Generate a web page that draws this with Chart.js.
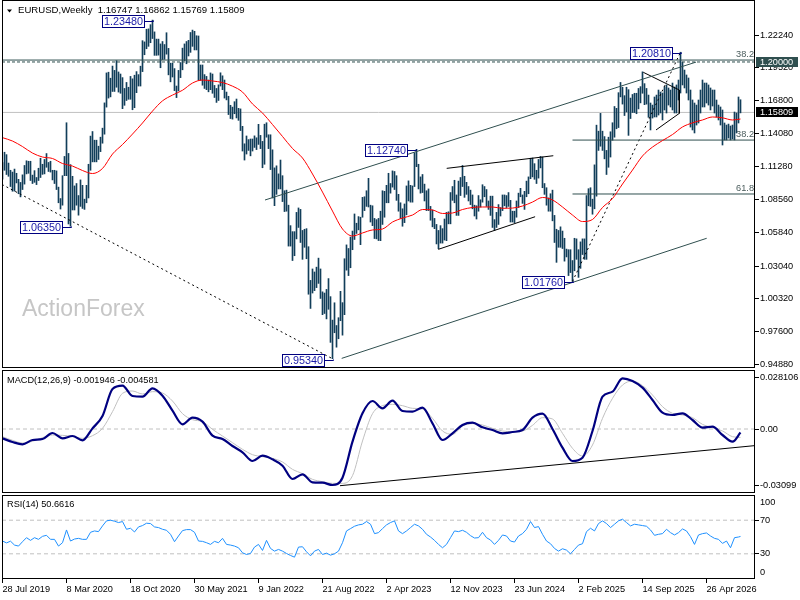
<!DOCTYPE html>
<html>
<head>
<meta charset="utf-8">
<script src="https://cdn.jsdelivr.net/npm/chart.js@4.4.1/dist/chart.umd.min.js"></script>
<style>
  html, body { margin: 0; padding: 0; background: #fff; }
  #wrap { position: relative; width: 800px; height: 600px; background: #fff; overflow: hidden; }
  canvas { position: absolute; left: 0; }
</style>
</head>
<body>
<div id="wrap">
  <canvas id="priceChart" width="800" height="368" style="top:0"></canvas>
  <canvas id="macdChart" width="800" height="123" style="top:370px"></canvas>
  <canvas id="rsiChart" width="800" height="105" style="top:495px"></canvas>
</div>
<script>
// weekly bars, first one is the week of 28 Jul 2019
const dateLabels = ["28 Jul 2019", "8 Mar 2020", "18 Oct 2020", "30 May 2021", "9 Jan 2022", "21 Aug 2022",
  "2 Apr 2023", "12 Nov 2023", "23 Jun 2024", "2 Feb 2025", "14 Sep 2025", "26 Apr 2026"];
const weeksPerLabel = 32;
const priceTicks = [0.9488, 0.9760, 1.0032, 1.0304, 1.0584, 1.0856, 1.1128, 1.1408, 1.1680, 1.1952, 1.2224];
const macdTicks = [0.028106, 0, -0.03099];
const rsiTicks = [70, 30];

const highs = [
  1.1165,1.1250,1.1230,1.1160,1.1100,1.1085,1.1110,1.1075,1.1025,1.0999,
  1.1062,1.1140,1.1179,1.1175,1.1175,1.1060,1.1097,1.1040,1.1117,1.1200,
  1.1150,1.1190,1.1239,1.1165,1.1175,1.1100,1.1100,1.1095,1.0960,1.0865,
  1.1055,1.1215,1.1495,1.1240,1.1147,1.1050,1.0970,1.0990,1.0890,1.1020,
  1.0975,1.0860,1.0975,1.1150,1.1384,1.1422,1.1350,1.1350,1.1300,1.1375,
  1.1450,1.1660,1.1909,1.1915,1.1865,1.1966,1.1930,1.2011,1.1917,1.1900,
  1.1870,1.1780,1.1830,1.1790,1.1880,1.1860,1.1890,1.1920,1.1895,1.1965,
  1.2177,1.2167,1.2272,1.2275,1.2310,1.2348,1.2250,1.2190,1.2190,1.2150,
  1.2170,1.2145,1.2243,1.2113,1.1990,1.1990,1.1945,1.1800,1.1930,1.1995,
  1.2115,1.2150,1.2170,1.2180,1.2245,1.2265,1.2255,1.2218,1.2216,1.1975,
  1.1975,1.1895,1.1880,1.1850,1.1909,1.1900,1.1805,1.1780,1.1810,1.1910,
  1.1885,1.1850,1.1750,1.1715,1.1640,1.1625,1.1670,1.1692,1.1615,1.1610,
  1.1465,1.1320,1.1385,1.1355,1.1360,1.1360,1.1386,1.1370,1.1482,1.1390,
  1.1340,1.1483,1.1495,1.1395,1.1395,1.1270,1.1120,1.1137,1.1070,1.1185,
  1.1055,1.0930,1.0935,1.0810,1.0640,1.0590,1.0590,1.0750,1.0787,1.0775,
  1.0600,1.0610,1.0615,1.0465,1.0185,1.0280,1.0255,1.0295,1.0370,1.0280,
  1.0090,1.0080,1.0110,1.0200,1.0050,0.9855,0.9999,0.9810,0.9875,1.0094,
  1.0000,1.0365,1.0480,1.0450,1.0545,1.0595,1.0737,1.0660,1.0715,1.0710,
  1.0875,1.0880,1.0930,1.1033,1.0810,1.0805,1.0700,1.0690,1.0700,1.0760,
  1.0930,1.0925,1.0975,1.1075,1.0990,1.1095,1.1090,1.1055,1.0900,1.0830,
  1.0780,1.0820,1.0970,1.1012,1.0975,1.0970,1.1245,1.1274,1.1150,1.1045,
  1.1065,1.0985,1.0930,1.0945,1.0800,1.0770,1.0700,1.0650,1.0600,1.0640,
  1.0615,1.0695,1.0750,1.0755,1.0915,1.0965,1.1017,1.0895,1.1010,1.1040,
  1.1140,1.1050,1.1000,1.0965,1.0935,1.0895,1.0810,1.0805,1.0890,1.0855,
  1.0980,1.0965,1.0940,1.0845,1.0885,1.0885,1.0690,1.0750,1.0815,1.0790,
  1.0895,1.0895,1.0890,1.0915,1.0850,1.0760,1.0760,1.0845,1.0910,1.0950,
  1.0895,1.0925,1.1010,1.1045,1.1200,1.1202,1.1155,1.1100,1.1190,1.1215,
  1.1210,1.0990,1.0955,1.0870,1.0905,1.0935,1.0725,1.0610,1.0600,1.0630,
  1.0595,1.0535,1.0445,1.0440,1.0440,1.0350,1.0535,1.0530,1.0440,1.0505,
  1.0530,1.0530,1.0890,1.0947,1.0955,1.0860,1.1145,1.1475,1.1425,1.1573,
  1.1425,1.1380,1.1265,1.1375,1.1420,1.1495,1.1630,1.1615,1.1745,1.1830,
  1.1790,1.1720,1.1790,1.1770,1.1700,1.1730,1.1740,1.1740,1.1780,1.1795,
  1.1918,1.1820,1.1780,1.1725,1.1659,1.1642,1.1709,1.1725,1.1767,1.1750,
  1.1742,1.1792,1.1809,1.1784,1.1767,1.1825,1.1792,1.1809,1.1850,1.2081,
  1.1999,1.1933,1.1892,1.1867,1.1767,1.1684,1.1659,1.1642,1.1684,1.1767,
  1.1850,1.1825,1.1825,1.1809,1.1784,1.1767,1.1767,1.1684,1.1642,1.1626,
  1.1601,1.1493,1.1476,1.1484,1.1468,1.1476,1.1584,1.1576,1.1709,1.16862
];
const lows = [
  1.1027,1.1100,1.1065,1.1050,1.0965,1.0926,1.0927,1.0995,1.0905,1.0879,
  1.0940,1.0985,1.1070,1.1075,1.1015,1.0990,1.1000,1.0981,1.1015,1.1040,
  1.1066,1.1070,1.1125,1.1090,1.1085,1.1020,1.0990,1.0940,1.0830,1.0778,
  1.0810,1.1055,1.1055,1.0654,1.0635,1.0770,1.0770,1.0810,1.0727,1.0800,
  1.0783,1.0775,1.0830,1.0870,1.1100,1.1170,1.1170,1.1170,1.1190,1.1255,
  1.1325,1.1400,1.1625,1.1700,1.1710,1.1755,1.1755,1.1790,1.1750,1.1740,
  1.1612,1.1640,1.1680,1.1690,1.1690,1.1603,1.1620,1.1745,1.1800,1.1800,
  1.1920,1.2060,1.2110,1.2130,1.2160,1.2195,1.2055,1.2055,1.2057,1.1952,
  1.2020,1.2022,1.2065,1.1893,1.1835,1.1875,1.1762,1.1704,1.1760,1.1870,
  1.1935,1.2010,1.1985,1.2050,1.2080,1.2130,1.2100,1.2100,1.1847,1.1847,
  1.1807,1.1780,1.1770,1.1752,1.1770,1.1740,1.1705,1.1664,1.1680,1.1800,
  1.1770,1.1700,1.1685,1.1563,1.1530,1.1525,1.1570,1.1535,1.1515,1.1430,
  1.1260,1.1185,1.1235,1.1265,1.1220,1.1260,1.1290,1.1272,1.1315,1.1280,
  1.1121,1.1150,1.1375,1.1280,1.1106,1.0870,1.0806,1.0900,1.0945,1.0945,
  1.0840,1.0757,1.0760,1.0470,1.0470,1.0350,1.0390,1.0530,1.0625,1.0500,
  1.0360,1.0460,1.0365,1.0070,0.9952,1.0080,1.0100,1.0125,1.0160,1.0035,
  0.9900,0.9910,0.9865,0.9945,0.9670,0.9534,0.9750,0.9630,0.9700,0.9850,
  0.9730,0.9900,1.0270,1.0225,1.0290,1.0440,1.0525,1.0575,1.0605,1.0482,
  1.0710,1.0765,1.0800,1.0795,1.0670,1.0640,1.0533,1.0530,1.0516,1.0515,
  1.0650,1.0710,1.0830,1.0830,1.0910,1.0960,1.0940,1.0850,1.0760,1.0700,
  1.0635,1.0665,1.0730,1.0845,1.0835,1.0835,1.0965,1.1130,1.0945,1.0910,
  1.0915,1.0845,1.0765,1.0765,1.0685,1.0630,1.0615,1.0488,1.0448,1.0495,
  1.0495,1.0520,1.0515,1.0655,1.0655,1.0850,1.0830,1.0725,1.0725,1.0890,
  1.0965,1.0875,1.0900,1.0845,1.0815,1.0780,1.0720,1.0695,1.0760,1.0795,
  1.0835,1.0880,1.0800,1.0775,1.0725,1.0625,1.0601,1.0625,1.0650,1.0720,
  1.0765,1.0805,1.0790,1.0800,1.0670,1.0670,1.0665,1.0710,1.0790,1.0880,
  1.0825,1.0775,1.0880,1.0905,1.1030,1.1045,1.1025,1.0990,1.1035,1.1120,
  1.0955,1.0900,1.0810,1.0760,1.0760,1.0680,1.0500,1.0335,1.0460,1.0460,
  1.0450,1.0345,1.0380,1.0225,1.0250,1.0176,1.0265,1.0360,1.0210,1.0285,
  1.0400,1.0360,1.0360,1.0805,1.0800,1.0735,1.0780,1.0885,1.1265,1.1300,
  1.1265,1.1195,1.1065,1.1125,1.1210,1.1350,1.1375,1.1445,1.1455,1.1710,
  1.1650,1.1555,1.1585,1.1390,1.1530,1.1580,1.1580,1.1570,1.1610,1.1660,
  1.1740,1.1645,1.1650,1.1540,1.1435,1.1534,1.1543,1.1543,1.1559,1.1576,
  1.1518,1.1601,1.1576,1.1642,1.1626,1.1601,1.1576,1.1576,1.1684,1.1742,
  1.1809,1.1784,1.1742,1.1684,1.1459,1.1435,1.1410,1.1476,1.1493,1.1576,
  1.1626,1.1626,1.1659,1.1642,1.1601,1.1634,1.1576,1.1543,1.1518,1.1476,
  1.1310,1.1352,1.1352,1.1368,1.1352,1.1360,1.1352,1.1410,1.1493,1.15769
];

// red moving average, read every 5 weeks (last point = last bar)
const maValues = [
  1.1371,1.1343,1.1297,1.1243,1.1210,1.1198,1.1156,1.1135,1.1098,1.1073,
  1.1115,1.1235,1.1314,1.1401,1.1493,1.1592,1.1677,1.1725,1.1765,1.1825,
  1.1850,1.1842,1.1829,1.1799,1.1750,1.1651,1.1576,1.1480,1.1381,1.1281,
  1.1202,1.1069,1.0919,1.0761,1.0612,1.0554,1.0579,1.0604,1.0612,1.0670,
  1.0703,1.0728,1.0774,1.0770,1.0741,1.0745,1.0774,1.0791,1.0795,1.0795,
  1.0784,1.0786,1.0803,1.0836,1.0874,1.0853,1.0795,1.0728,1.0674,1.0691,
  1.0791,1.0865,1.0986,1.1102,1.1219,1.1293,1.1347,1.1397,1.1460,1.1494,
  1.1518,1.1543,1.1536,1.1518,1.1526
];
// MACD main and signal, read every 5 weeks
const macdValues = [
  -0.00509,-0.00709,-0.00836,-0.00600,-0.00545,-0.00218,-0.00509,-0.00382,-0.00618,0.00036,
  0.00709,0.02180,0.02362,0.01799,0.01762,0.02217,0.01817,0.00999,0.00254,0.00618,
  0.00400,-0.00363,-0.00545,-0.00927,-0.01272,-0.01744,-0.01454,-0.01653,-0.01999,-0.02726,
  -0.02471,-0.02907,-0.02925,-0.03053,-0.02653,-0.00690,0.00854,0.01526,0.01127,0.01544,
  0.00981,0.00945,0.01163,0.00309,-0.00600,-0.00236,0.00218,0.00345,0.00091,-0.00055,
  -0.00236,-0.00164,-0.00055,0.00618,0.00836,0.00000,-0.01018,-0.01744,-0.01563,-0.00109,
  0.01762,0.02035,0.02762,0.02616,0.02253,0.01581,0.00890,0.00763,0.00854,0.00491,
  0.00073,0.00127,-0.00327,-0.00690,-0.00195
];
const signalValues = [
  -0.00418,-0.00618,-0.00763,-0.00672,-0.00472,-0.00327,-0.00345,-0.00400,-0.00509,-0.00363,
  0.00036,0.00945,0.01944,0.02071,0.01908,0.02035,0.01962,0.01526,0.00836,0.00509,
  0.00400,-0.00018,-0.00382,-0.00745,-0.01108,-0.01399,-0.01508,-0.01599,-0.01799,-0.02199,
  -0.02435,-0.02744,-0.02871,-0.02962,-0.02962,-0.02544,-0.00654,0.00836,0.01272,0.01345,
  0.01272,0.01127,0.01090,0.00581,-0.00109,-0.00291,0.00164,0.00291,0.00218,0.00036,
  -0.00109,-0.00145,-0.00109,0.00200,0.00618,0.00545,-0.00236,-0.01054,-0.01472,-0.00872,
  0.00581,0.01672,0.02398,0.02616,0.02362,0.01853,0.01217,0.00854,0.00763,0.00618,
  0.00254,0.00073,-0.00109,-0.00418,-0.00458
];
// RSI(14), read every 2 weeks
const rsiValues = [
  45.2,43,45,40.4,39.2,44.4,49.2,46,49.2,47.2,
  50.8,52,47.2,47.2,39.2,43.2,58.4,45.2,47.6,48.4,
  47.2,47.2,55.6,57.2,56.4,63.2,69.2,70,68.8,67.2,
  68.4,59.2,60.4,56,62,63.6,66.4,66,62,61.2,
  59.2,58,53.2,44.4,51.2,57.6,58.8,58.8,55.6,45.2,
  44.8,43.2,41.2,44.8,43.2,48.4,41.2,40.4,39.2,37.2,
  31.2,29.2,30.4,38,41.2,34,46,36.4,33.2,35.2,
  33.2,30.4,28,26,38,38.4,32.4,27.6,33.2,35.2,
  29.2,30.8,28.4,30,33.2,43.2,57.2,60,62.8,64.4,
  65.2,68.4,65.2,54,55.2,60,64.4,67.2,69.2,57.2,
  54,57.2,61.2,65.2,63.2,59.2,53.2,50,46,41.2,
  37.2,41.2,49.2,57.2,56.4,58,55.6,51.6,48.8,49.2,
  55.6,49.2,46.4,41.2,46,52.4,51.2,45.2,44,51.2,
  54,59.2,68.4,61.2,62.4,53.2,45.2,42,36.4,33.2,
  36,34.4,30,35.2,40.4,42,56.4,60.4,57.2,66,
  69.2,66,61.2,65.2,69.2,71.2,67.2,63.2,65.2,64.4,
  63.6,62.8,58.4,52,53.2,54,59.2,55.2,52.4,55.2,
  59.6,57.2,50.4,41.2,52.4,54,54.8,51.2,48.4,47.2,
  42.4,45.2,37.2,49.2,50,50.66
];

const lastOHLC = [1.16747, 1.16862, 1.15769, 1.15809];
const macdReadout = [-0.001946, -0.004581];
const rsiReadout = 50.6616;

// marked swing points: week index and price
const pivotWeeks = [75, 34, 207, 165, 285, 339];
const pivotPrices = [1.2348, 1.0635, 1.1274, 0.9534, 1.0176, 1.2081];

// drawn objects as [week, value] pairs
const channelUpper = [[131.25, 1.0853], [346.75, 1.1999]];
const channelLower = [[169.6, 0.9537], [352.1, 1.0535]];
const dashedDown = [[-0.25, 1.0982], [165, 0.9534]];
const dottedUp = [[285, 1.0176], [339, 1.2081]];
const wedgeUpper = [[222.1, 1.1116], [275.4, 1.1221]];
const wedgeLower = [[217.9, 1.0443], [266.3, 1.0714]];
const triangle = [[320.4, 1.1914], [338.4, 1.1767], [338.4, 1.1573], [326.75, 1.1435]];
const macdTrend = [[168.75, -0.0309], [376.25, -0.00905]];
const roundLevel = 1.2;
const fibTopLevel = 1.2016;
const fibLevels = [1.1351, 1.0903];
const fibNames = ["38.2", "61.8"];
const fibStartWeek = 285;

const X_MIN = -0.25, X_MAX = 376.25;
const LAST = highs.length - 1;
const FONT = '"Liberation Sans", Arial, sans-serif';
const SMALL = '9.2px ' + FONT;
const BAR = '#123e5a';
const SLATE = '#2f4f4f';

Chart.defaults.font.family = FONT;
Chart.defaults.font.size = 9.2;
Chart.defaults.color = '#000';

const pts = arr => arr.map(p => ({ x: p[0], y: p[1] }));
const sampled = (vals, step) => vals.map((v, i) => ({ x: Math.min(i * step, LAST), y: v }));

function seg(data, color, width, dash, order, smooth) {
  return {
    type: 'line', data, borderColor: color, borderWidth: width, borderDash: dash || [],
    pointRadius: 0, fill: false, tension: 0, order,
    cubicInterpolationMode: smooth ? 'monotone' : 'default'
  };
}

function xScale(show) {
  return {
    type: 'linear', min: X_MIN, max: X_MAX, offset: false, display: show,
    grid: { drawOnChartArea: false, tickLength: 4, color: '#000' },
    border: { display: false },
    afterBuildTicks: s => { s.ticks = dateLabels.map((_, i) => ({ value: i * weeksPerLabel })); },
    afterFit: s => { s.height = show ? 21 : 0; s.paddingLeft = 0; s.paddingRight = 0; },
    ticks: { autoSkip: false, maxRotation: 0, align: 'start', padding: 1, callback: (v, i) => dateLabels[i] }
  };
}

function yScale(min, max, ticks, fmt) {
  return {
    type: 'linear', position: 'right', min, max,
    grid: { drawOnChartArea: false, tickLength: 4, color: '#000' },
    border: { display: false },
    afterBuildTicks: s => { s.ticks = ticks.map(v => ({ value: v })); },
    afterFit: s => { s.width = 45; s.paddingTop = 0; s.paddingBottom = 0; },
    ticks: { autoSkip: false, padding: 1, callback: fmt }
  };
}

function baseOptions(yOpts, showX) {
  return {
    responsive: false, animation: false, devicePixelRatio: 1, events: [],
    layout: { padding: { left: 2, right: 0, top: 0, bottom: 0 } },
    plugins: { legend: { display: false }, tooltip: { enabled: false } },
    scales: { x: xScale(showX), y: yOpts }
  };
}

function frame(chart) {
  const { ctx, chartArea: a } = chart;
  ctx.save();
  ctx.strokeStyle = '#000';
  ctx.lineWidth = 1;
  ctx.strokeRect(a.left + 0.5, a.top + 0.5, a.width - 1, a.height - 1);
  ctx.restore();
}

function tagBox(ctx, a, py, text, fill) {
  ctx.fillStyle = fill;
  ctx.fillRect(a.right + 1, Math.round(py) - 5, 42, 10);
  ctx.fillStyle = '#fff';
  ctx.textAlign = 'left';
  ctx.textBaseline = 'middle';
  ctx.fillText(text, a.right + 5, Math.round(py));
}

const priceDecor = {
  id: 'priceDecor',
  beforeDatasetsDraw(chart) {
    const { ctx } = chart;
    ctx.save();
    ctx.fillStyle = '#c6c6c6';
    ctx.font = '23px ' + FONT;
    ctx.textBaseline = 'middle';
    ctx.fillText('ActionForex', 22, 310);
    ctx.restore();
  },
  afterDraw(chart) {
    const { ctx, chartArea: a, scales: { x, y } } = chart;
    frame(chart);
    ctx.save();
    // title
    ctx.fillStyle = '#000';
    ctx.beginPath();
    ctx.moveTo(7, 9.5); ctx.lineTo(12, 9.5); ctx.lineTo(9.5, 12.5); ctx.closePath(); ctx.fill();
    ctx.font = '9.6px ' + FONT;
    ctx.textBaseline = 'middle';
    ctx.fillText('EURUSD,Weekly  ' + lastOHLC.map(v => v.toFixed(5)).join(' '), 18, 10.5);
    // fibonacci level names
    ctx.font = SMALL;
    ctx.fillStyle = '#4a5c5c';
    ctx.textAlign = 'right';
    ctx.fillText('38.2', a.right - 1, y.getPixelForValue(fibTopLevel) - 5.5);
    fibLevels.forEach((v, i) => ctx.fillText(fibNames[i], a.right - 1, y.getPixelForValue(v) - 5.5));
    // swing labels
    ctx.font = '10.8px ' + FONT;
    ctx.textAlign = 'center';
    pivotWeeks.forEach((w, i) => {
      const ax = Math.round(x.getPixelForValue(w)) + 0.5;
      const ay = Math.round(y.getPixelForValue(pivotPrices[i]));
      const cy = ay + 1.5;
      const r = ax - 9, l = r - 42;
      ctx.fillStyle = '#fff';
      ctx.fillRect(l, cy - 6, 42, 12);
      ctx.strokeStyle = '#000080';
      ctx.lineWidth = 1;
      ctx.strokeRect(l, cy - 6, 42, 12);
      ctx.beginPath();
      ctx.moveTo(r, cy); ctx.lineTo(ax, cy); ctx.lineTo(ax, ay + 0.5);
      ctx.stroke();
      ctx.fillStyle = '#1a1aa8';
      ctx.fillText(pivotPrices[i].toFixed(5), (l + r) / 2, cy + 0.5);
    });
    // price tags on the axis
    ctx.font = SMALL;
    tagBox(ctx, a, y.getPixelForValue(roundLevel), roundLevel.toFixed(5), SLATE);
    tagBox(ctx, a, y.getPixelForValue(lastOHLC[3]), lastOHLC[3].toFixed(5), '#000');
    ctx.restore();
  }
};

const macdDecor = {
  id: 'macdDecor',
  afterDraw(chart) {
    frame(chart);
    const { ctx } = chart;
    ctx.save();
    ctx.font = SMALL;
    ctx.textBaseline = 'middle';
    ctx.fillText('MACD(12,26,9) ' + macdReadout.map(v => v.toFixed(6)).join(' '), 7, 10);
    ctx.restore();
  }
};

const rsiDecor = {
  id: 'rsiDecor',
  afterDraw(chart) {
    frame(chart);
    const { ctx, chartArea: a } = chart;
    ctx.save();
    ctx.font = SMALL;
    ctx.textBaseline = 'middle';
    ctx.fillText('RSI(14) ' + rsiReadout.toFixed(4), 7, 9.5);
    ctx.fillText('100', a.right + 5, a.top + 7);
    ctx.fillText('0', a.right + 5, a.bottom - 7);
    ctx.restore();
  }
};

// main price panel
new Chart(document.getElementById('priceChart'), {
  type: 'bar',
  data: {
    datasets: [
      { type: 'bar', data: highs.map((h, i) => ({ x: i, y: [lows[i], h] })),
        backgroundColor: BAR, borderWidth: 0, barThickness: 1, order: 5 },
      seg(sampled(maValues, 5), '#ff0000', 1, null, 1, true),
      seg(pts([[X_MIN, lastOHLC[3]], [X_MAX, lastOHLC[3]]]), '#c0c0c0', 1, null, 9),
      seg(pts([[X_MIN, fibTopLevel], [X_MAX, fibTopLevel]]), SLATE, 1, null, 3),
      seg(pts([[X_MIN, roundLevel], [X_MAX, roundLevel]]), SLATE, 1, [3, 2], 3),
      ...fibLevels.map(v => seg(pts([[fibStartWeek, v], [X_MAX, v]]), SLATE, 1, null, 3)),
      seg(pts(channelUpper), SLATE, 1, null, 3),
      seg(pts(channelLower), SLATE, 1, null, 3),
      seg(pts(dashedDown), '#000', 1, [2, 3], 3),
      seg(pts(dottedUp), '#000', 1, [2, 3], 3),
      seg(pts(wedgeUpper), '#000', 1, null, 3),
      seg(pts(wedgeLower), '#000', 1, null, 3),
      seg(pts(triangle), '#000', 1, null, 3)
    ]
  },
  options: baseOptions(yScale(0.9457, 1.2515, priceTicks, v => v.toFixed(5)), false),
  plugins: [priceDecor]
});

// MACD panel
new Chart(document.getElementById('macdChart'), {
  type: 'line',
  data: {
    datasets: [
      seg(sampled(macdValues, 5), '#000080', 2.2, null, 1, true),
      seg(sampled(signalValues, 5), '#c0c0c0', 1, null, 2, true),
      seg(pts([[X_MIN, 0], [X_MAX, 0]]), '#c0c0c0', 1, [4, 3], 4),
      seg(pts(macdTrend), '#000', 1, null, 3)
    ]
  },
  options: baseOptions(yScale(-0.03488, 0.03216, macdTicks, v => (v === 0 ? '0.00' : String(v))), false),
  plugins: [macdDecor]
});

// RSI panel
new Chart(document.getElementById('rsiChart'), {
  type: 'line',
  data: {
    datasets: [
      seg(sampled(rsiValues, 2), '#1e90ff', 1, null, 1),
      ...rsiTicks.map(v => seg(pts([[X_MIN, v], [X_MAX, v]]), '#c0c0c0', 1, [4, 3], 4))
    ]
  },
  options: baseOptions(yScale(0, 100, rsiTicks, v => String(v)), true),
  plugins: [rsiDecor]
});
</script>
</body>
</html>
